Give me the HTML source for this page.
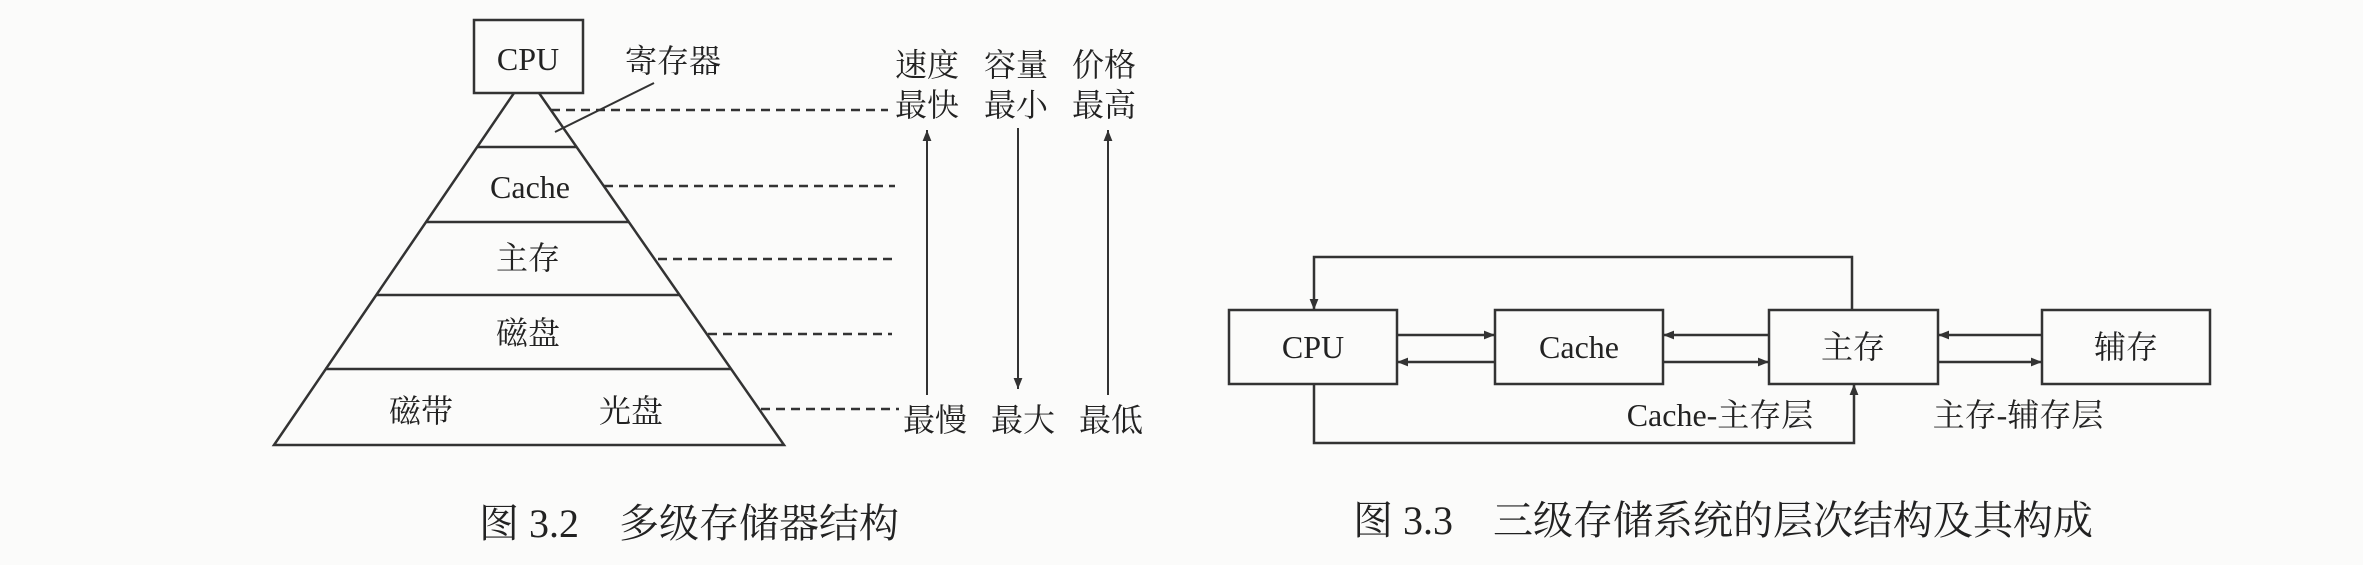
<!DOCTYPE html>
<html><head><meta charset="utf-8"><style>
html,body{margin:0;padding:0;background:#fbfbfa;}
svg{display:block}
text{font-family:"Liberation Serif","Noto Serif CJK SC",serif;fill:#222;}
</style></head><body>
<svg width="2363" height="565" viewBox="0 0 2363 565" xmlns="http://www.w3.org/2000/svg">
<defs>
<marker id="a" viewBox="0 0 10 10" refX="10" refY="5" markerWidth="18" markerHeight="11" markerUnits="userSpaceOnUse" orient="auto"><path d="M0,1 L10,5 L0,9 Z" fill="#333"/></marker>
</defs>
<g stroke="#333" stroke-width="2.5" fill="none">
<rect x="474" y="20" width="109" height="73"/>
<path d="M514,93 L274,445 L784,445 L539,93"/>
<line x1="477" y1="147" x2="577" y2="147"/>
<line x1="426" y1="222" x2="629" y2="222"/>
<line x1="376" y1="295" x2="680" y2="295"/>
<line x1="325" y1="369" x2="731" y2="369"/>
<line x1="654" y1="83" x2="555" y2="132" stroke-width="2"/>
<g stroke-dasharray="9,6" stroke-width="2.5">
<line x1="551" y1="110" x2="888" y2="110"/>
<line x1="604" y1="186" x2="895" y2="186"/>
<line x1="658" y1="259" x2="895" y2="259"/>
<line x1="708" y1="334" x2="892" y2="334"/>
<line x1="761" y1="409" x2="899" y2="409"/>
</g>
<line x1="927" y1="395" x2="927" y2="130" marker-end="url(#a)" stroke-width="2"/>
<line x1="1018" y1="128" x2="1018" y2="389" marker-end="url(#a)" stroke-width="2"/>
<line x1="1108" y1="395" x2="1108" y2="130" marker-end="url(#a)" stroke-width="2"/>
</g>
<g font-size="32" text-anchor="middle">
<text x="528" y="70">CPU</text>
<text x="673" y="72">寄存器</text>
<text x="530" y="198" fill="#777">Cache</text>
<text x="528" y="269" fill="#777">主存</text>
<text x="528" y="344" fill="#777">磁盘</text>
<text x="421" y="422" fill="#666">磁带</text>
<text x="631" y="422" fill="#666">光盘</text>
<text x="927" y="76">速度</text><text x="1016" y="76">容量</text><text x="1104" y="76">价格</text>
<text x="927" y="116">最快</text><text x="1016" y="116">最小</text><text x="1104" y="116">最高</text>
<text x="935" y="431">最慢</text><text x="1023" y="431">最大</text><text x="1111" y="431">最低</text>
</g>
<text x="689" y="537" font-size="40" text-anchor="middle" fill="#666">图 3.2　多级存储器结构</text>

<g stroke="#333" stroke-width="2.5" fill="none">
<rect x="1229" y="310" width="168" height="74"/>
<rect x="1495" y="310" width="168" height="74"/>
<rect x="1769" y="310" width="169" height="74"/>
<rect x="2042" y="310" width="168" height="74"/>
<line x1="1397" y1="335" x2="1495" y2="335" marker-end="url(#a)"/>
<line x1="1495" y1="362" x2="1397" y2="362" marker-end="url(#a)"/>
<line x1="1769" y1="335" x2="1663" y2="335" marker-end="url(#a)"/>
<line x1="1663" y1="362" x2="1769" y2="362" marker-end="url(#a)"/>
<line x1="2042" y1="335" x2="1938" y2="335" marker-end="url(#a)"/>
<line x1="1938" y1="362" x2="2042" y2="362" marker-end="url(#a)"/>
<path d="M1852,310 L1852,257 L1314,257 L1314,310" marker-end="url(#a)"/>
<path d="M1314,384 L1314,443 L1854,443 L1854,384" marker-end="url(#a)"/>
</g>
<g font-size="32" text-anchor="middle">
<text x="1313" y="358">CPU</text>
<text x="1579" y="358">Cache</text>
<text x="1853" y="358">主存</text>
<text x="2126" y="358">辅存</text>
<text x="1720" y="426">Cache-主存层</text>
<text x="2018" y="426">主存-辅存层</text>
</g>
<text x="1723" y="534" font-size="40" text-anchor="middle" fill="#333">图 3.3　三级存储系统的层次结构及其构成</text>
</svg>
</body></html>
